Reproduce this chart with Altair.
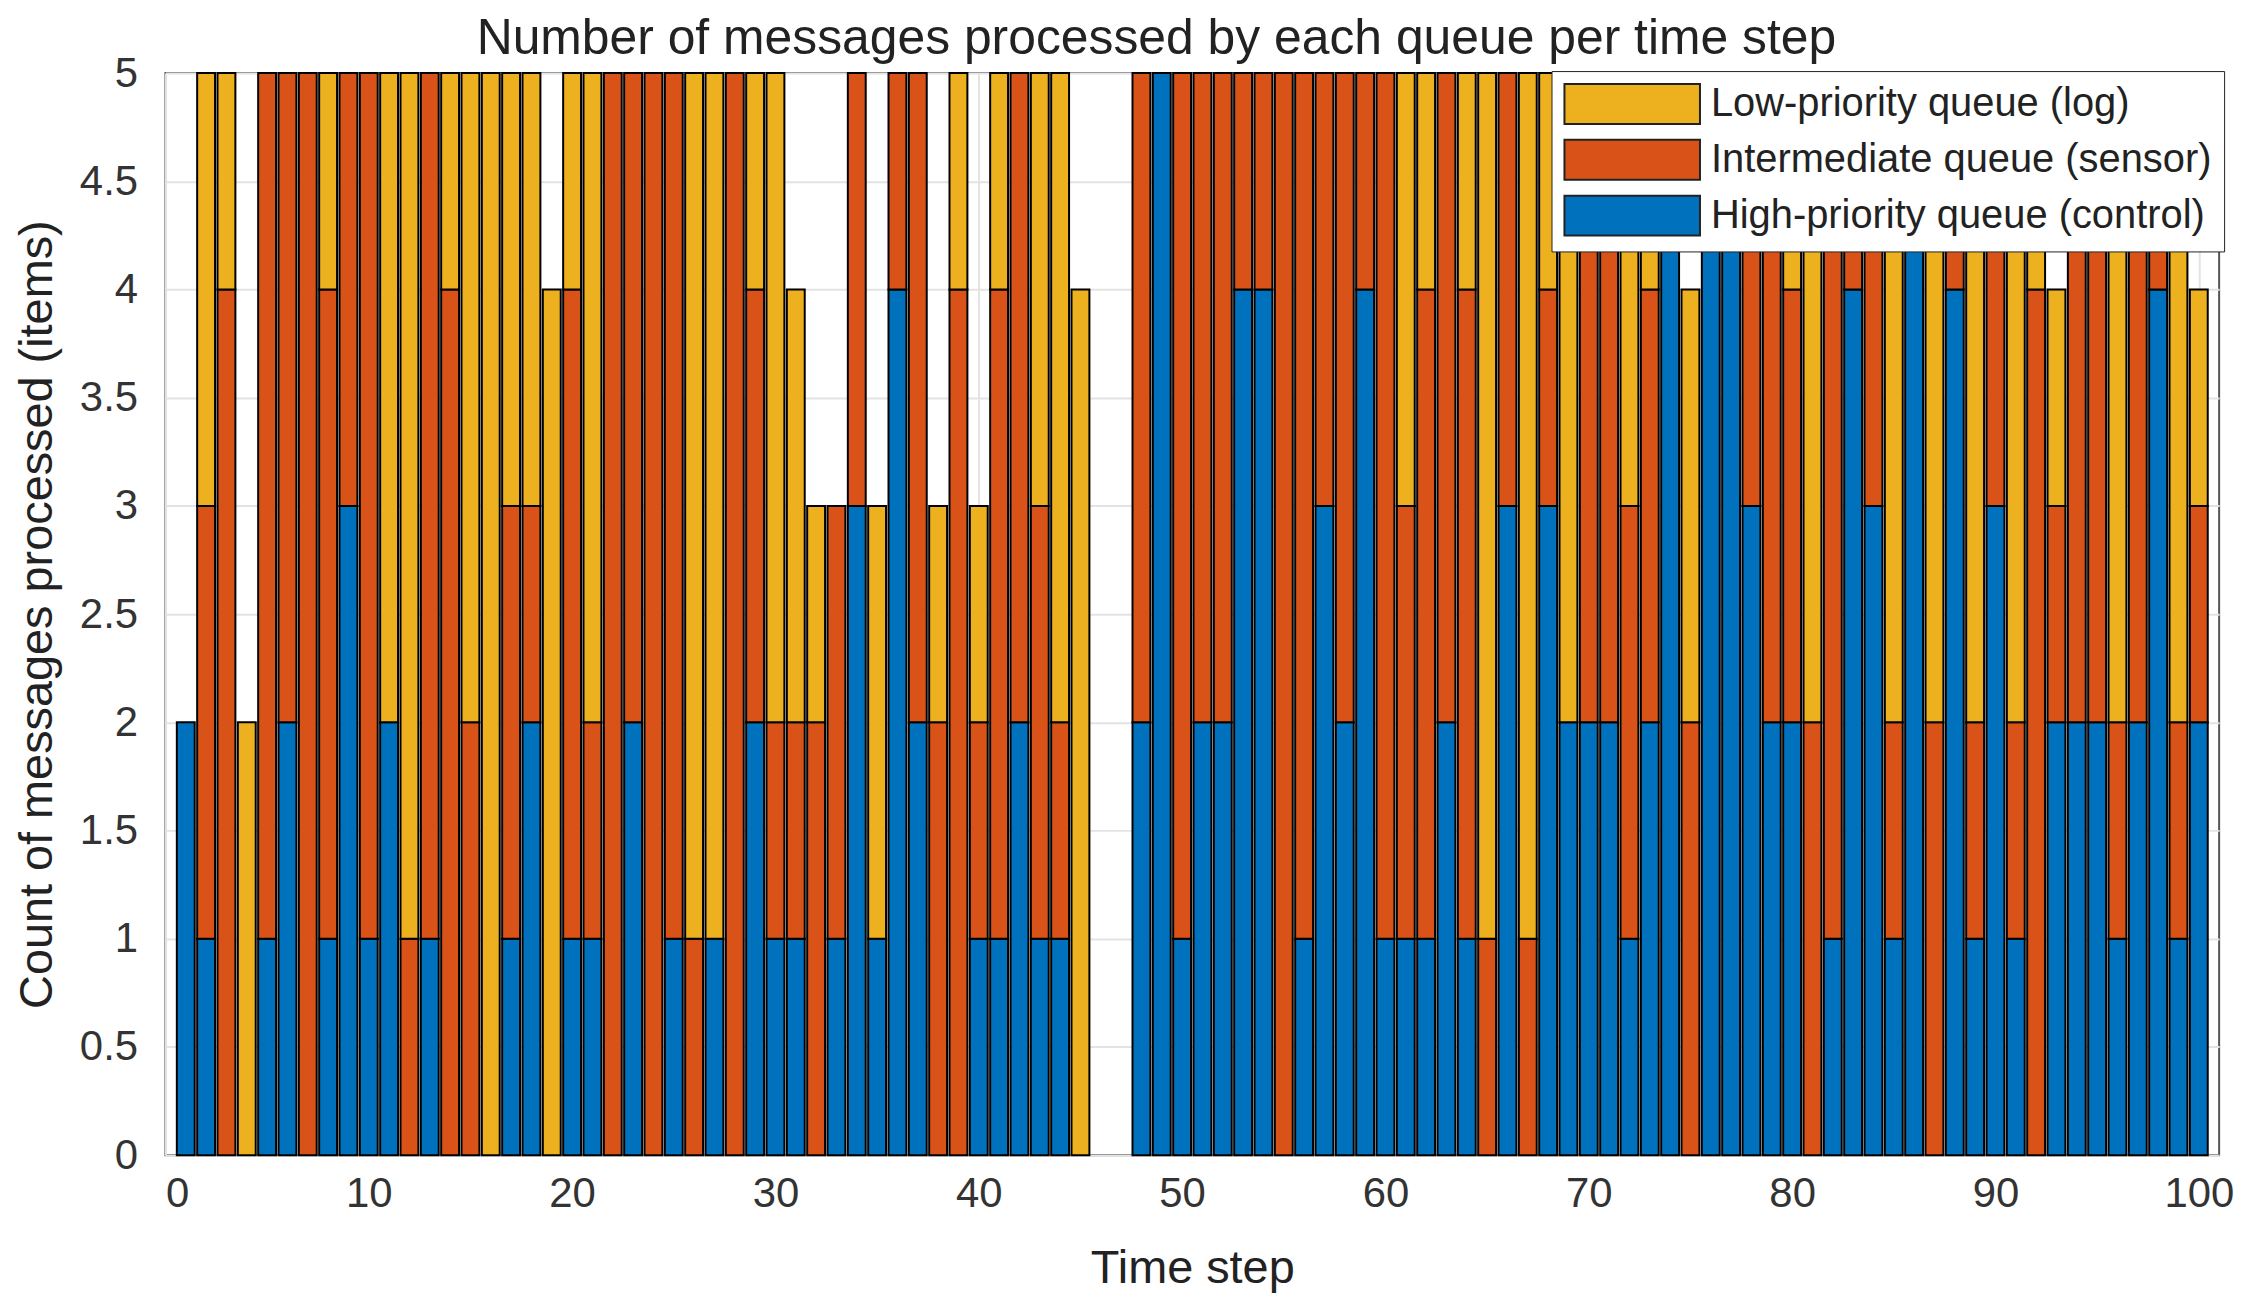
import altair as alt
import pandas as pd

# Messages processed per time step
steps = list(range(1, 101))
high = [2, 1, 0, 0, 1, 2, 0, 1, 3, 1,
        2, 0, 1, 0, 0, 0, 1, 2, 0, 1,
        1, 0, 2, 0, 1, 0, 1, 0, 2, 1,
        1, 0, 1, 3, 1, 4, 2, 0, 0, 1,
        1, 2, 1, 1, 0, 0, 0, 2, 5, 1,
        2, 2, 4, 4, 0, 1, 3, 2, 4, 1,
        1, 1, 2, 1, 0, 3, 0, 3, 2, 2,
        2, 1, 2, 5, 0, 5, 5, 3, 2, 2,
        0, 1, 4, 3, 1, 5, 0, 4, 1, 3,
        1, 0, 2, 2, 2, 1, 2, 4, 1, 2]
inter = [0, 2, 4, 0, 4, 3, 5, 3, 2, 4,
         0, 1, 4, 4, 2, 0, 2, 1, 0, 3,
         1, 5, 3, 5, 4, 1, 0, 5, 2, 1,
         1, 2, 2, 2, 0, 1, 3, 2, 4, 1,
         3, 3, 2, 1, 0, 0, 0, 3, 0, 4,
         3, 3, 1, 1, 5, 4, 2, 3, 1, 4,
         2, 3, 3, 3, 1, 2, 1, 1, 0, 3,
         3, 2, 2, 0, 2, 0, 0, 2, 3, 2,
         2, 4, 1, 2, 1, 0, 2, 1, 1, 2,
         1, 4, 1, 3, 3, 1, 3, 1, 1, 1]
low = [0, 2, 1, 2, 0, 0, 0, 1, 0, 0,
       3, 4, 0, 1, 3, 5, 2, 2, 4, 1,
       3, 0, 0, 0, 0, 4, 4, 0, 1, 3,
       2, 1, 0, 0, 2, 0, 0, 1, 1, 1,
       1, 0, 2, 3, 4, 0, 0, 0, 0, 0,
       0, 0, 0, 0, 0, 0, 0, 0, 0, 0,
       2, 1, 0, 1, 4, 0, 4, 1, 3, 0,
       0, 2, 1, 0, 2, 0, 0, 0, 0, 1,
       3, 0, 0, 0, 3, 0, 3, 0, 3, 0,
       3, 1, 1, 0, 0, 3, 0, 0, 3, 1]

queues = ['Low-priority queue (log)',
          'Intermediate queue (sensor)',
          'High-priority queue (control)']
colors = ['#EDB120', '#D95319', '#0072BD']

rows = []
for i, s in enumerate(steps):
    rows.append({'step': s, 'queue': queues[2], 'rank': 0, 'n': high[i]})
    rows.append({'step': s, 'queue': queues[1], 'rank': 1, 'n': inter[i]})
    rows.append({'step': s, 'queue': queues[0], 'rank': 2, 'n': low[i]})
df = pd.DataFrame(rows)

FONT = 'Liberation Sans'

bars = alt.Chart(df).transform_stack(
    stack='n',
    groupby=['step'],
    as_=['y0', 'y1'],
    sort=[alt.SortField('rank', order='ascending')]
).transform_filter(
    alt.datum.n > 0
).transform_calculate(
    x0='datum.step - 0.44',
    x1='datum.step + 0.44'
).mark_bar(stroke='black', strokeWidth=2, opacity=1).encode(
    x=alt.X('x0:Q',
            scale=alt.Scale(domain=[0, 101], nice=False, zero=False),
            axis=alt.Axis(values=list(range(0, 101, 10)), format='d',
                          title='Time step', labelPadding=18,
                          titlePadding=32, ticks=False, domain=False)),
    x2='x1:Q',
    y=alt.Y('y0:Q',
            scale=alt.Scale(domain=[0, 5], nice=False),
            axis=alt.Axis(values=[v / 2 for v in range(0, 11)], format='~g',
                          title='Count of messages processed (items)',
                          labelPadding=28, titlePadding=18,
                          ticks=False, domain=False)),
    y2='y1:Q',
    color=alt.Color('queue:N',
                    scale=alt.Scale(domain=queues, range=colors),
                    legend=alt.Legend(
                        title=None, orient='none', legendX=1391, legendY=-2,
                        symbolType='M-3.4,-1H3.4V1H-3.4Z', symbolSize=1600,
                        symbolOffset=48, symbolStrokeColor='#222',
                        symbolStrokeWidth=2, symbolOpacity=1,
                        labelFontSize=40, labelFont=FONT, labelColor='#222',
                        labelLimit=800, labelOffset=58, rowPadding=8,
                        padding=12, strokeColor='#222', fillColor='white')),
    order=alt.Order('rank:Q')
)

chart = bars.properties(
    width=2061,
    height=1086,
    autosize=alt.AutoSizeParams(type='none'),
    padding={'left': 158, 'top': 63, 'right': 36, 'bottom': 144},
    title=alt.Title('Number of messages processed by each queue per time step',
                    fontSize=50, font=FONT, fontWeight='normal',
                    color='#222', offset=0, dy=12, dx=-36, anchor='middle')
).configure_axis(
    labelFont=FONT,
    titleFont=FONT,
    labelFontSize=42,
    titleFontSize=47,
    titleFontWeight='normal',
    labelColor='#333',
    titleColor='#222',
    gridColor='#e3e3e3',
    gridWidth=2
).configure_view(
    stroke='#555',
    strokeWidth=2
)

chart.save('out.html', embed_options={'renderer': 'svg', 'actions': False})
